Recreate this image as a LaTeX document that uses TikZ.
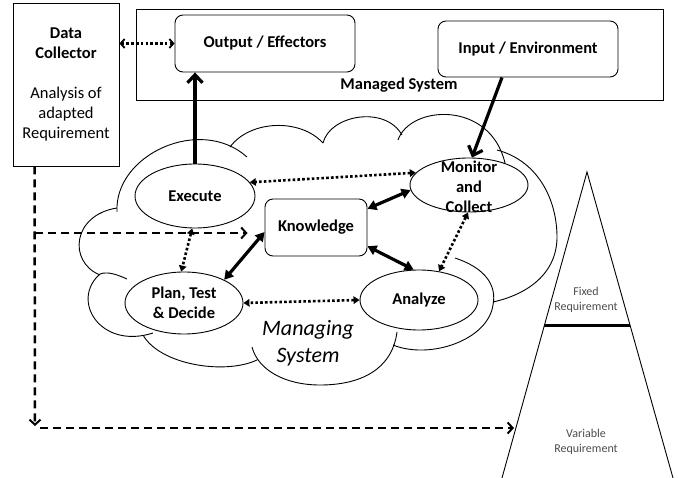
\documentclass[tikz,border=0pt]{standalone}
\usepackage{fontspec}
\setmainfont{Carlito}
\usetikzlibrary{shapes.geometric,arrows.meta}

\begin{document}
\begin{tikzpicture}[x=1pt, y=-1pt,
  font=\fontsize{16.5}{20}\selectfont,
  frame/.style={draw, line width=.9pt},
  box/.style={frame, rounded corners=8pt, fill=white, font=\bfseries\fontsize{16.5}{20}\selectfont},
  phase/.style={frame, ellipse, fill=white, inner sep=0pt, align=center, font=\bfseries\fontsize{16.5}{20}\selectfont},
  strong/.style={line width=3.2pt},
  thicktips/.style={{Triangle[length=9pt,width=10pt]}-{Triangle[length=9pt,width=10pt]}},
  opentip/.style={-{Straight Barb[length=8pt,width=15pt]}},
  dotlink/.style={line width=2.6pt, dash pattern=on 2.6pt off 2.2pt},
  twoway/.style={{Triangle[length=6pt,width=7.5pt]}-{Triangle[length=6pt,width=7.5pt]}},
  dashlink/.style={line width=2.5pt, dash pattern=on 8pt off 5pt, -{Straight Barb[length=5pt,width=11pt,line width=2pt]}},
  small/.style={align=center, text=black!70, font=\fontsize{12}{15}\selectfont}
]
\useasboundingbox (0,0) rectangle (678,478);

% cloud of the managing system
\draw[line width=.9pt]
  (100,275) .. controls (68,262) and (72,215) .. (117,208)
  (117,212) .. controls (114,155) and (200,115) .. (247,157)
  (230,147) .. controls (250,120) and (300,118) .. (323,143)
  (323,143) .. controls (330,115) and (385,105) .. (402,135)
  (398,140) .. controls (410,105) and (490,100) .. (505,163)
  (497,150) .. controls (535,160) and (556,195) .. (557,235) .. controls (558,275) and (525,295) .. (493,302)
  (455,258) .. controls (485,268) and (497,285) .. (493,305) .. controls (488,340) and (430,360) .. (393,345)
  (397,332) .. controls (392,370) and (360,385) .. (320,385) .. controls (285,385) and (258,370) .. (252,347)
  (257,360) .. controls (225,375) and (160,365) .. (143,335)
  (153,333) .. controls (100,350) and (70,300) .. (100,274) .. controls (108,271) and (118,275) .. (127,279);

% managed system
\node[frame, minimum width=527pt, minimum height=91pt] (managed) at (399.5,54.5) {};
\node[font=\bfseries\fontsize{16.5}{20}\selectfont] (managedlbl) at (399,85) {Managed System};
\node[box, minimum width=180pt, minimum height=57pt] (output) at (265,43.5) {Output / Effectors};
\node[box, minimum width=180pt, minimum height=56pt] (input) at (528,49) {Input / Environment};

\node[frame, minimum width=106pt, minimum height=163pt, align=center] (dc) at (66,84.5)
  {\textbf{Data}\\\textbf{Collector}\\[20pt]Analysis of\\adapted\\Requirement};

% MAPE-K loop
\node[phase, minimum width=120pt, minimum height=64pt] (execute) at (195,196) {Execute};
\node[phase, minimum width=118pt, minimum height=54pt,
  label={[align=center, font=\bfseries\fontsize{16.5}{20}\selectfont, yshift=-2pt]center:Monitor\\and\\Collect}] (monitor) at (469,185) {};
\node[phase, minimum width=118pt, minimum height=62pt] (plan) at (184,303) {Plan, Test\\\& Decide};
\node[phase, minimum width=118pt, minimum height=60pt] (analyze) at (419,300) {Analyze};
\node[box, minimum width=102pt, minimum height=57pt] (knowledge) at (316,227.5) {Knowledge};
\node[align=center, font=\itshape\fontsize{22}{27}\selectfont] (managing) at (308,343) {Managing\\System};

% requirement triangle
\coordinate (apex) at (587,172);
\coordinate (baseL) at (502,478);
\coordinate (baseR) at (673,478);
\coordinate (fixL) at (544,326);
\coordinate (fixR) at (630,326);
\draw[line width=.9pt] (baseL) -- (apex) -- (baseR);
\draw[line width=3pt] (fixL) -- (fixR);
\node[small] (fixed) at (586,300) {Fixed\\Requirement};
\node[small] (variable) at (586,442) {Variable\\Requirement};

% solid links
\draw[strong, opentip] (execute.north) -- (execute.north |- output.south);
\draw[strong, opentip] ([xshift=-26pt]input.south) -- ([xshift=3pt]monitor.north);
\draw[strong, thicktips] (knowledge.20) -- (monitor.185);
\draw[strong, thicktips] (knowledge.-20) -- (analyze.100);
\draw[strong, thicktips] (knowledge.185) -- (plan.30);

% dotted links
\draw[dotlink, {Straight Barb[length=4pt,width=9pt,line width=1.8pt]}-{Straight Barb[length=4pt,width=9pt,line width=1.8pt]}]
  (dc.east |- output.west) -- (output.west);
\draw[dotlink, twoway] (monitor.167) -- (execute.14);
\draw[dotlink, twoway] (monitor.-92) -- (analyze.55);
\draw[dotlink, twoway] (analyze.west) -- (plan.east);
\draw[dotlink, twoway] (execute.-95) -- (plan.95);

% dashed links
\coordinate (branch) at (35,233);
\coordinate (bend) at (35,426);
\coordinate (varin) at (514,428);
\draw[dashlink] ([xshift=22pt]dc.south west) -- (bend);
\draw[dashlink, shorten >=17pt] (branch) -- (branch -| knowledge.west);
\draw[dashlink] ([xshift=5pt]bend |- varin) -- (varin);
\end{tikzpicture}
\end{document}
